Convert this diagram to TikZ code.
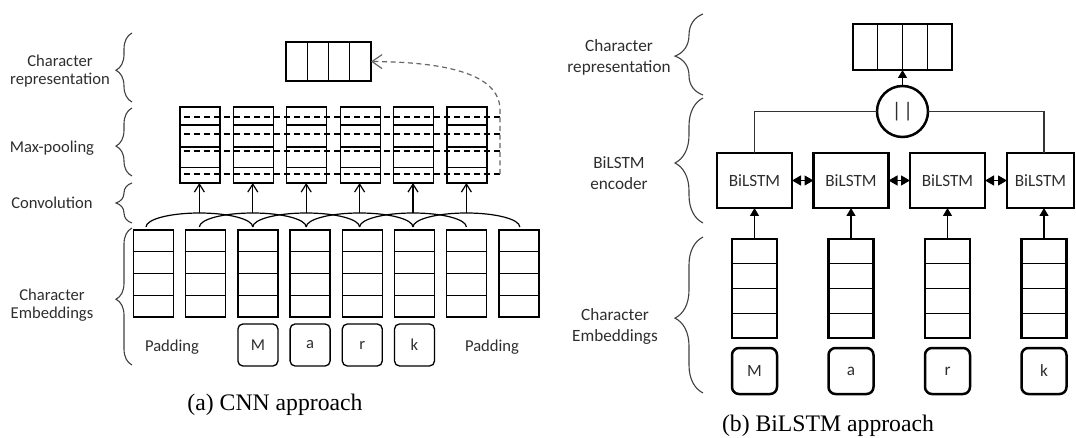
\documentclass[tikz,border=0pt]{standalone}
\usepackage{fontspec}
\setmainfont{Liberation Serif}
\newfontfamily\calib{Carlito}
\usetikzlibrary{arrows.meta,decorations.pathreplacing,calc}
\begin{document}
\begin{tikzpicture}[x=0.5pt,y=-0.5pt,
  lbl/.style={font=\calib\fontsize{8.3}{9.1}\selectfont,text=black!82,align=center,inner sep=0},
  rlbl/.style={font=\calib\fontsize{8.6}{10.3}\selectfont,text=black!82,align=center,inner sep=0},
  captxt/.style={font=\fontsize{11.85}{14}\selectfont,inner sep=0},
  lbox/.style={draw,line width=0.65pt,inner sep=0,outer sep=0},
  tbox/.style={draw,line width=1.25pt,inner sep=0,outer sep=0},
  inln/.style={line width=0.6pt},
  brc/.style={decorate,line width=0.55pt,draw=black!75},
  oarr/.style={line width=0.6pt,-{Straight Barb[length=4pt,width=5pt]}},
  farr/.style={line width=0.6pt,-{Triangle[length=4pt,width=4.5pt]}},
  darr/.style={line width=0.6pt,{Triangle[length=4.5pt,width=5pt]}-{Triangle[length=4.5pt,width=5pt]}},
  dline/.style={line width=0.6pt,dash pattern=on 3pt off 2pt},
  gdash/.style={line width=0.6pt,draw=black!60,dash pattern=on 2.5pt off 1.8pt,-{Straight Barb[length=5pt,width=7pt]}},
]
\useasboundingbox (0,0) rectangle (1076,438);

%% ---------------- (a) CNN approach ----------------
% character embeddings (8 columns)
\foreach \i in {0,...,7}{
  \node[lbox,minimum width=20pt,minimum height=43.5pt] (e\i) at ({153.5+52.2*\i},273.5) {};
  \foreach \f in {0.25,0.5,0.75}
    \draw[inln] ($(e\i.north west)!\f!(e\i.south west)$) -- ($(e\i.north east)!\f!(e\i.south east)$);
}
% letters
\foreach \i/\t in {2/M,3/a,4/r,5/k}
  \node[lbox,rounded corners=2.5pt,minimum width=20pt,minimum height=21pt,
        font=\calib\fontsize{8.3}{9.1}\selectfont,text=black!82] (l\i) at ({153.5+52.2*\i},345) {\t};
\node[lbl] (pad1) at (172,347) {Padding};
\node[lbl] (pad2) at (492,347) {Padding};

% convolution arcs
\foreach \k in {0,...,5}{
  \draw[inln] ({146+53.4*\k},227) arc[start angle=180,end angle=0,x radius=26.7pt,y radius=7pt];
  \coordinate (t\k) at ({199.4+53.4*\k},213);
}
% max-pooling boxes
\foreach \k in {0,...,5}{
  \node[lbox,minimum width=20pt,minimum height=38pt] (p\k) at ({200+53.4*\k},145) {};
  \foreach \f in {0.237,0.526,0.80}
    \draw[inln] ($(p\k.north west)!\f!(p\k.south west)$) -- ($(p\k.north east)!\f!(p\k.south east)$);
  \draw[oarr] (t\k) -- (t\k |- p\k.south);
}
% dashed max lines
\foreach \y in {117,134,151,174}{
  \coordinate (ds\y) at (183.5,\y);
  \coordinate (de\y) at (500,\y);
  \draw[dline] (ds\y) -- (de\y);
}
% character representation
\node[lbox,minimum width=42.5pt,minimum height=19.5pt] (cr) at (328.5,61.5) {};
\foreach \f in {0.25,0.5,0.75}
  \draw[inln] ($(cr.north west)!\f!(cr.north east)$) -- ($(cr.south west)!\f!(cr.south east)$);
\draw[gdash] (de174) -- (500,110) .. controls (500,72) and (440,62) .. (cr.east);

% braces and labels (left)
\draw[brc,decoration={brace,amplitude=8pt,aspect=0.46}] (132,102) -- (132,33);
\draw[brc,decoration={brace,amplitude=8pt,aspect=0.44}] (132,176) -- (132,108);
\draw[brc,decoration={brace,amplitude=8pt,aspect=0.5}] (132,223) -- (132,183);
\draw[brc,decoration={brace,amplitude=8pt,aspect=0.48}] (132,365) -- (132,228);
\node[lbl] (lcr) at (60,71) {Character\\representation};
\node[lbl] (lmp) at (52,148) {Max-pooling};
\node[lbl] (lcv) at (52,203) {Convolution};
\node[lbl] (lce) at (52,305.5) {Character\\Embeddings};
\node[captxt] (capa) at (275,405) {(a) CNN approach};

%% ---------------- (b) BiLSTM approach ----------------
\foreach \i/\t in {0/M,1/a,2/r,3/k}{
  \node[tbox,minimum width=22.5pt,minimum height=49.5pt] (re\i) at ({754.5+96.5*\i},288.5) {};
  \foreach \f in {0.25,0.5,0.75}
    \draw[inln] ($(re\i.north west)!\f!(re\i.south west)$) -- ($(re\i.north east)!\f!(re\i.south east)$);
  \node[tbox,rounded corners=3.5pt,minimum width=22.5pt,minimum height=23pt,
        font=\calib\fontsize{8.6}{10.3}\selectfont,text=black!82] (rl\i) at ({754.5+96.5*\i},371) {\t};
}
\foreach \i in {0,1,2}
  \node[tbox,minimum width=37.5pt,minimum height=27.5pt,font=\calib\fontsize{8.6}{10.3}\selectfont,text=black!82]
    (b\i) at ({754.5+96.5*\i},180.5) {BiLSTM};
\node[tbox,minimum width=33.5pt,minimum height=27.5pt,font=\calib\fontsize{8.6}{10.3}\selectfont,text=black!82]
    (b3) at (1040.5,180.5) {BiLSTM};
\foreach \i in {0,...,3}
  \draw[farr] (re\i.north) -- (re\i.north |- b\i.south);
\draw[darr] (b0.east) -- (b1.west);
\draw[darr] (b1.east) -- (b2.west);
\draw[darr] (b2.east) -- (b3.west);

\node[tbox,circle,minimum size=25.5pt,font=\calib\fontsize{10.5}{11}\selectfont,text=black!82] (cc) at (902.5,111.5) {|\kern1pt|};
\draw[inln,draw=black!80] (cc.west) -| (b0.north);
\draw[inln,draw=black!80] (cc.east) -| (re3.north |- b3.north);

\node[tbox,minimum width=49.5pt,minimum height=23pt] (rcr) at (902.5,47) {};
\foreach \f in {0.25,0.5,0.75}
  \draw[inln] ($(rcr.north west)!\f!(rcr.north east)$) -- ($(rcr.south west)!\f!(rcr.south east)$);
\draw[farr] (cc.north) -- (rcr.south);

% braces and labels (right)
\draw[brc,decoration={brace,amplitude=14pt,aspect=0.48}] (703,95) -- (703,14);
\draw[brc,decoration={brace,amplitude=14pt,aspect=0.48}] (703,223) -- (703,98);
\draw[brc,decoration={brace,amplitude=14pt,aspect=0.48}] (703,393) -- (703,237);
\node[rlbl] (rlcr) at (619,57.5) {Character\\representation};
\node[rlbl] (rlen) at (619,173) {BiLSTM\\encoder};
\node[rlbl] (rlce) at (615,326.5) {Character\\Embeddings};
\node[captxt] (capb) at (828,426) {(b) BiLSTM approach};
\end{tikzpicture}
\end{document}
